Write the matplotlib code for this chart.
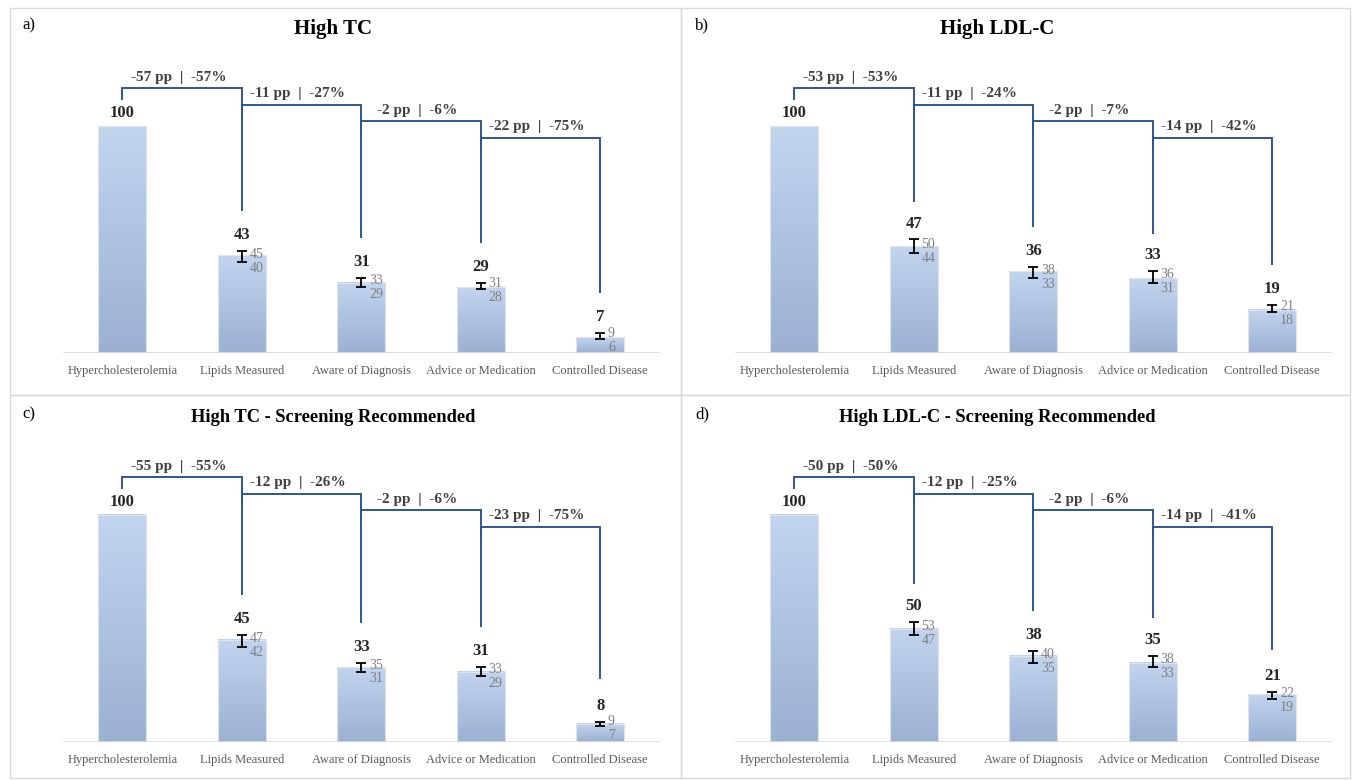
import numpy as np
import matplotlib
matplotlib.use("Agg")
import matplotlib.pyplot as plt
from matplotlib.colors import LinearSegmentedColormap
from matplotlib.patches import Rectangle

plt.rcParams['font.family'] = ['Liberation Serif', 'DejaVu Serif']

categories = ["Hypercholesterolemia", "Lipids Measured", "Aware of Diagnosis",
              "Advice or Medication", "Controlled Disease"]

panel_letters = ["a)", "b)", "c)", "d)"]
panel_titles = ["High TC", "High LDL-C",
                "High TC - Screening Recommended", "High LDL-C - Screening Recommended"]

# cascade values (%), with 95% CI bounds
values_a = [100, 43, 31, 29, 7]
ci_low_a = [None, 40, 29, 28, 6]
ci_high_a = [None, 45, 33, 31, 9]
drop_pp_a = [-57, -11, -2, -22]
drop_pct_a = [-57, -27, -6, -75]

values_b = [100, 47, 36, 33, 19]
ci_low_b = [None, 44, 33, 31, 18]
ci_high_b = [None, 50, 38, 36, 21]
drop_pp_b = [-53, -11, -2, -14]
drop_pct_b = [-53, -24, -7, -42]

values_c = [100, 45, 33, 31, 8]
ci_low_c = [None, 42, 31, 29, 7]
ci_high_c = [None, 47, 35, 33, 9]
drop_pp_c = [-55, -12, -2, -23]
drop_pct_c = [-55, -26, -6, -75]

values_d = [100, 50, 38, 35, 21]
ci_low_d = [None, 47, 35, 33, 19]
ci_high_d = [None, 53, 40, 38, 22]
drop_pp_d = [-50, -12, -2, -14]
drop_pct_d = [-50, -25, -6, -41]

panels = [
    (values_a, ci_low_a, ci_high_a, drop_pp_a, drop_pct_a),
    (values_b, ci_low_b, ci_high_b, drop_pp_b, drop_pct_b),
    (values_c, ci_low_c, ci_high_c, drop_pp_c, drop_pct_c),
    (values_d, ci_low_d, ci_high_d, drop_pp_d, drop_pct_d),
]

W, H = 1354, 780
fig = plt.figure(figsize=(W / 100, H / 100), dpi=100)

bar_cmap = LinearSegmentedColormap.from_list("bar", ["#9bb0d3", "#c2d4ee"])
bracket_color = "#2f5597"
gray_text = "#808080"


def fx(px):
    return px / W


def fy(py):
    return 1 - py / H


# panel frames
for x0, x1 in [(10, 681), (681, 1350)]:
    for y0, y1 in [(8, 395), (395, 778)]:
        fig.patches.append(Rectangle((fx(x0), fy(y1)), fx(x1 - x0), (y1 - y0) / H,
                                     transform=fig.transFigure, fill=False,
                                     edgecolor="#d9d9d9", linewidth=1))

ymax = 128
for k, (values, lo, hi, pp, pct) in enumerate(panels):
    row, col = divmod(k, 2)
    left = 62.5 + 672 * col
    base = 353 + 389 * row
    top = base - ymax * 2.27
    ax = fig.add_axes([fx(left), fy(base), 597.5 / W, (base - top) / H])
    x = np.arange(len(categories))
    ax.set_xlim(-0.5, len(categories) - 0.5)
    ax.set_ylim(0, ymax)

    # gradient bars
    grad = np.linspace(0, 1, 64).reshape(-1, 1)
    for xi, v in zip(x, values):
        ax.imshow(grad, cmap=bar_cmap, origin="lower", aspect="auto",
                  extent=[xi - 0.2, xi + 0.2, 0, v], zorder=2, interpolation="bicubic")
    ax.bar(x, values, width=0.4, color="none", edgecolor="#dfe3ea", linewidth=0.8, zorder=3)

    # error bars and CI labels
    for xi, v, l, h in zip(x, values, lo, hi):
        if l is None:
            label_y = v + 2
        else:
            ax.errorbar(xi, v, yerr=[[v - l], [h - v]], fmt="none", ecolor="black",
                        elinewidth=1.3, capsize=3.5, capthick=1.3, zorder=4)
            mid = (l + h) / 2
            ax.annotate(str(h), (xi, mid), xytext=(5.5, 1.5), textcoords="offset points",
                        ha="left", va="center", fontsize=10, color=gray_text)
            ax.annotate(str(l), (xi, mid), xytext=(5.5, -8.5), textcoords="offset points",
                        ha="left", va="center", fontsize=10, color=gray_text)
            label_y = h + 3.5
        ax.text(xi, label_y, str(v), ha="center", va="bottom", fontsize=12,
                fontweight="bold", color="#262626")

    # staircase brackets
    for i in range(len(pp)):
        level = 116.7 - 7.3 * i
        end = values[i + 1] + 20
        xs = [i, i, i + 1, i + 1]
        ys = [level - 5, level, level, end]
        ax.plot(xs, ys, color=bracket_color, linewidth=1.4, zorder=5,
                solid_joinstyle="miter")
        ax.text(i + 0.47, level + 2, f"{pp[i]} pp  |  {pct[i]}%", ha="center",
                va="bottom", fontsize=11, fontweight="bold", color="#404040")

    ax.axhline(0, color="#d9d9d9", linewidth=1.2, zorder=6)
    for s in ax.spines.values():
        s.set_visible(False)
    ax.set_yticks([])
    ax.set_xticks(x)
    ax.set_xticklabels(categories, fontsize=9, color="#595959", va="baseline")
    ax.tick_params(axis="x", length=0, pad=15)

    fig.text(fx(22 + 673 * col), fy(25 + 389 * row), panel_letters[k],
             fontsize=12, ha="left", va="center")
    fig.text(fx([333, 997][col]), fy(29 + 388 * row), panel_titles[k],
             fontsize=[15, 13.3][row], fontweight="bold", ha="center", va="center")

fig.savefig("out.png", dpi=100)
